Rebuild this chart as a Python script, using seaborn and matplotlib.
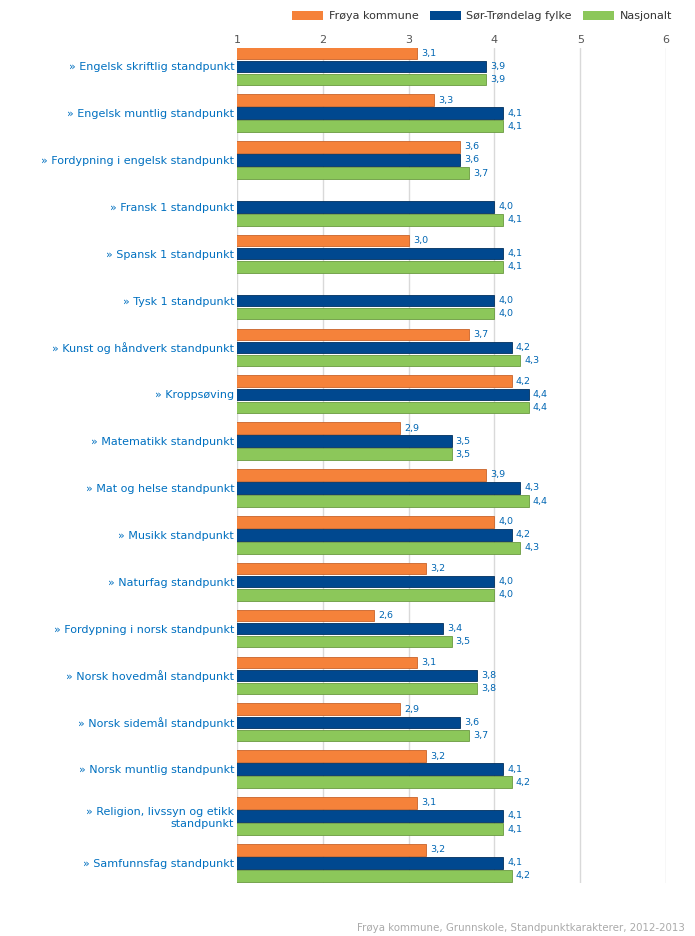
import matplotlib
matplotlib.use("Agg")
import matplotlib.pyplot as plt
import seaborn as sns
import pandas as pd
import numpy as np
from matplotlib.patches import Patch

categories = [
    "» Engelsk skriftlig standpunkt",
    "» Engelsk muntlig standpunkt",
    "» Fordypning i engelsk standpunkt",
    "» Fransk 1 standpunkt",
    "» Spansk 1 standpunkt",
    "» Tysk 1 standpunkt",
    "» Kunst og håndverk standpunkt",
    "» Kroppsøving",
    "» Matematikk standpunkt",
    "» Mat og helse standpunkt",
    "» Musikk standpunkt",
    "» Naturfag standpunkt",
    "» Fordypning i norsk standpunkt",
    "» Norsk hovedmål standpunkt",
    "» Norsk sidemål standpunkt",
    "» Norsk muntlig standpunkt",
    "» Religion, livssyn og etikk\nstandpunkt",
    "» Samfunnsfag standpunkt",
]
series_names = ["Frøya kommune", "Sør-Trøndelag fylke", "Nasjonalt"]
froya = [3.1, 3.3, 3.6, np.nan, 3.0, np.nan, 3.7, 4.2, 2.9, 3.9, 4.0, 3.2, 2.6, 3.1, 2.9, 3.2, 3.1, 3.2]
sortrondelag = [3.9, 4.1, 3.6, 4.0, 4.1, 4.0, 4.2, 4.4, 3.5, 4.3, 4.2, 4.0, 3.4, 3.8, 3.6, 4.1, 4.1, 4.1]
nasjonalt = [3.9, 4.1, 3.7, 4.1, 4.1, 4.0, 4.3, 4.4, 3.5, 4.4, 4.3, 4.0, 3.5, 3.8, 3.7, 4.2, 4.1, 4.2]
x_ticks = [1, 2, 3, 4, 5, 6]
source_text = "Frøya kommune, Grunnskole, Standpunktkarakterer, 2012-2013"

colors = ["#F5823A", "#00488F", "#8CC75A"]
edge_colors = ["#C8632A", "#00305F", "#6A9A40"]

rows = []
for vals, name in zip([froya, sortrondelag, nasjonalt], series_names):
    for c, v in zip(categories, vals):
        rows.append({"Fag": c, "Serie": name, "Verdi": v})
df = pd.DataFrame(rows)

sns.set_style("white")
plt.rcParams['font.family'] = ['DejaVu Sans']

fig = plt.figure(figsize=(6.95, 9.36), dpi=100)
ax = fig.add_axes([237/695, 1-883/936, (666-237)/695, (883-48)/936])

sns.barplot(data=df, y="Fag", x="Verdi", hue="Serie", order=categories,
            hue_order=series_names, palette=colors, orient="h", saturation=1,
            width=0.84, gap=0.12, ax=ax, legend=False, zorder=3)

for cont, ec in zip(ax.containers, edge_colors):
    for p in cont:
        p.set_edgecolor(ec)
        p.set_linewidth(0.6)
    labels = []
    for p in cont:
        w = p.get_width()
        labels.append("" if np.isnan(w) else f"{w:.1f}".replace(".", ","))
    ax.bar_label(cont, labels=labels, padding=3, fontsize=6.8, color="#0066B3")

ax.set_xlim(1, 6)
ax.set_ylim(len(categories) - 0.57, -0.39)
ax.set_xticks(x_ticks)
ax.set_xticklabels([str(t) for t in x_ticks])
ax.xaxis.tick_top()
ax.tick_params(axis="x", length=0, labelsize=8, labelcolor="#555555", pad=2)
ax.tick_params(axis="y", length=0, labelsize=8, labelcolor="#0070C0", pad=2)
for lbl in ax.get_yticklabels():
    lbl.set_horizontalalignment("right")
ax.set_xlabel("")
ax.set_ylabel("")
for s in ax.spines.values():
    s.set_visible(False)
ax.grid(axis="x", color="#D9D9D9", linewidth=1, zorder=0)
ax.grid(axis="y", visible=False)
ax.set_axisbelow(True)

handles = [Patch(facecolor=c, edgecolor="none") for c in colors]
fig.legend(handles, series_names, loc="upper right", bbox_to_anchor=(682/695, 1 - 1/936),
           ncol=3, frameon=False, fontsize=8, handlelength=2.8, handleheight=0.9,
           columnspacing=1.0, handletextpad=0.5, labelcolor="#333333")

fig.text(685/695, 1 - 928/936, source_text, ha="right", va="center",
         fontsize=7.4, color="#AAAAAA")

fig.savefig("out.png", dpi=100)
